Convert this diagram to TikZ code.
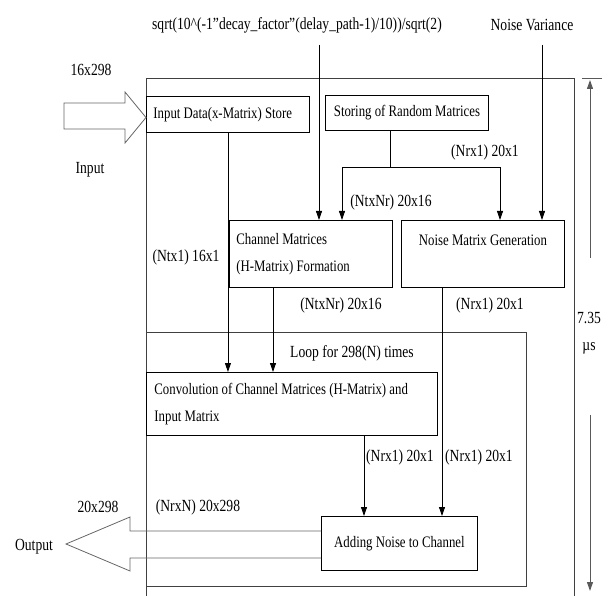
\documentclass[tikz,border=0pt]{standalone}
\usepackage{fontspec}
\setmainfont[FakeStretch=0.8]{Liberation Serif}
\usetikzlibrary{arrows.meta,positioning}

\begin{document}
\begin{tikzpicture}[x=1pt,y=-1pt,font=\fontsize{17}{27.5}\selectfont,>={Triangle[length=9pt,width=6pt]},
  box/.style={draw,line width=0.9pt,anchor=north west,inner xsep=7pt,inner ysep=0pt,text width=149,
    align=flush left,font=\fontsize{16}{27.5}\selectfont},
  lbl/.style={inner sep=0pt},
  frame/.style={draw,line width=1pt,black!75},
  blkarr/.style={draw,line width=0.8pt,black!60,line join=miter},
  a/.style={->,line width=0.8pt},
  dim/.style={->,line width=1pt,black!65}]
  \useasboundingbox (0,0) rectangle (611,596);
  % outer frame and loop frame
  \draw[frame] (146,596) -- (146,79) -- (574,79) -- (574,596);
  \draw[frame] (146,333) rectangle (526,586);
  \node[lbl] (loop) at (352,353) {Loop for 298(N) times};
  % blocks
  \node[box,minimum height=36] (store) at (146,96) {Input Data(x-Matrix) Store};
  \node[box,minimum height=35,align=flush center] (rand) at (325,95) {Storing of Random Matrices};
  \node[box,minimum height=67] (chan) at (229,220) {Channel Matrices\\(H-Matrix) Formation};
  \node[box,minimum height=67,align=flush center] (noise) at (401,220) {Noise Matrix Generation\\\mbox{}};
  \node[box,text width=275,inner xsep=8pt,minimum height=63] (conv) at (146,372) {Convolution of Channel Matrices (H-Matrix) and\\Input Matrix};
  \node[box,text width=142,minimum height=54,align=flush center] (add) at (321,516) {Adding Noise to Channel};
  % inputs on top
  \node[lbl] (sqrtin) at (297,25) {sqrt(10\textasciicircum(-1”decay\_factor”(delay\_path-1)/10))/sqrt(2)};
  \node[lbl] (nvin) at (532,25) {Noise Variance};
  \coordinate (hin) at (319,45);
  \coordinate (nin) at (542,45);
  \draw[a] (hin) -- (hin |- chan.north);
  \draw[a] (nin) -- (nin |- noise.north);
  % random matrices split
  \coordinate (split) at (390,167);
  \draw[line width=0.8pt] (rand.south -| split) -- (split);
  \draw[a] (split) -| ([xshift=113]chan.north west);
  \draw[a] (split) -| ([xshift=99]noise.north west);
  \node[lbl] at (485,152) {(Nrx1) 20x1};
  \node[lbl] at (391,202) {(NtxNr) 20x16};
  % into convolution
  \coordinate (hout) at ([xshift=44]chan.south west);
  \draw[a] (store.south) -- (store.south |- conv.north);
  \draw[a] (hout) -- (hout |- conv.north);
  \node[lbl] at (186,257) {(Ntx1) 16x1};
  \node[lbl] at (341,305) {(NtxNr) 20x16};
  \node[lbl] at (490,305) {(Nrx1) 20x1};
  % into adding
  \coordinate (cout) at ([xshift=218]conv.south west);
  \coordinate (nout) at ([xshift=41]noise.south west);
  \draw[a] (cout) -- (cout |- add.north);
  \draw[a] (nout) -- (nout |- add.north);
  \node[lbl] at (400,457) {(Nrx1) 20x1};
  \node[lbl] at (479,457) {(Nrx1) 20x1};
  % input / output block arrows
  \draw[blkarr] (146,117.5) -- (125,92) -- (125,103) -- (64,103) -- (64,129) -- (125,129) -- (125,143) -- cycle;
  \node[lbl] (insize) at (91,70) {16x298};
  \node[lbl] (inlbl) at (90,170) {Input};
  \draw[blkarr] (add.west |- 0,531) -- (130,531) -- (130,517) -- (66,544) -- (130,571) -- (130,558) -- (add.west |- 0,558);
  \node[lbl] (outsize) at (98,507) {20x298};
  \node[lbl] at (198,507) {(NrxN) 20x298};
  \node[lbl] (outlbl) at (34,547) {Output};
  % time span
  \node[lbl,align=center] (span) at (589,333) {7.35\\µs};
  \coordinate (spantop) at (590,80);
  \coordinate (spanup) at (590,258);
  \coordinate (spandn) at (590,415);
  \coordinate (spanbot) at (590,591);
  \draw[line width=1pt,black!65] (582,79) -- (602,79);
  \draw[dim] (spanup) -- (spantop);
  \draw[dim] (spandn) -- (spanbot);
\end{tikzpicture}
\end{document}
